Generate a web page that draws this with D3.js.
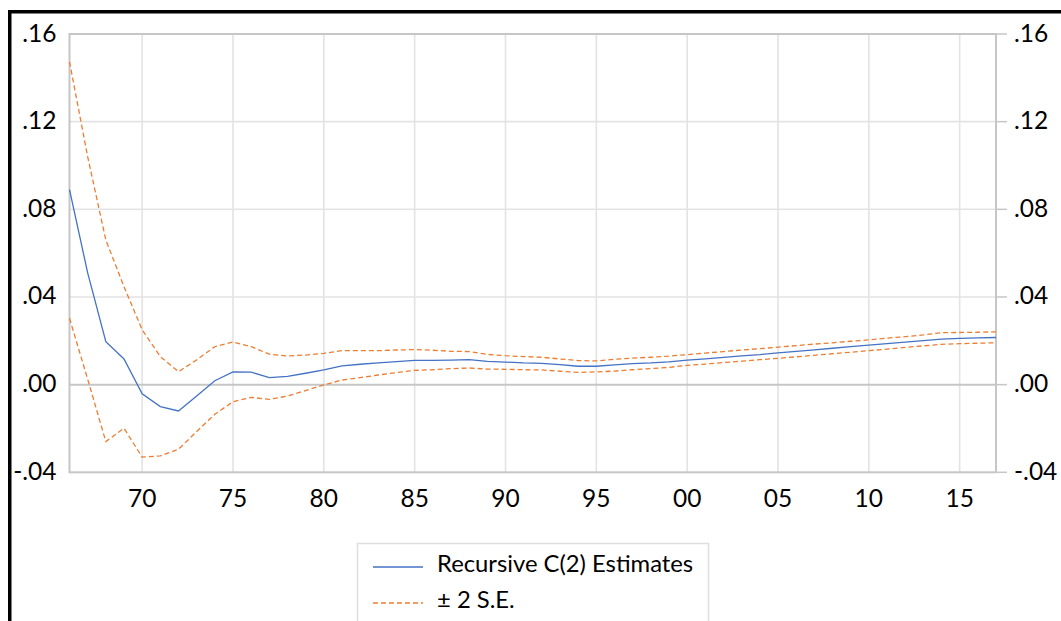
<!DOCTYPE html>
<html>
<head>
<meta charset="utf-8">
<script src="https://cdn.jsdelivr.net/npm/d3@7"></script>
<style>
  html, body { margin: 0; padding: 0; background: #fff; overflow: hidden; }
  text { font-family: Lato, "Open Sans", sans-serif; fill: #000; }
  .grid { stroke: #e3e3e3; stroke-width: 1.6; }
  .frame { stroke: #c6c6c6; stroke-width: 2; fill: none; }
  .estimate { fill: none; stroke: #4472c4; stroke-width: 1.3; }
  .band { fill: none; stroke: #ed7d31; stroke-width: 1.3; stroke-dasharray: 5 3; }
</style>
</head>
<body>
<svg id="chart" width="1061" height="621"></svg>
<script>
// years of the recursive sample
const years = [
  1966, 1967, 1968, 1969, 1970, 1971, 1972, 1973, 1974, 1975,
  1976, 1977, 1978, 1979, 1980, 1981, 1982, 1983, 1984, 1985,
  1986, 1987, 1988, 1989, 1990, 1991, 1992, 1993, 1994, 1995,
  1996, 1997, 1998, 1999, 2000, 2001, 2002, 2003, 2004, 2005,
  2006, 2007, 2008, 2009, 2010, 2011, 2012, 2013, 2014, 2015,
  2016, 2017,
];

// recursive C(2) estimates
const estimates = [
  0.0890, 0.0510, 0.0196, 0.0117, -0.0042, -0.0100, -0.0120, -0.0052, 0.0018, 0.0058,
  0.0057, 0.0032, 0.0038, 0.0052, 0.0067, 0.0086, 0.0093, 0.0099, 0.0105, 0.0111,
  0.0111, 0.0112, 0.0114, 0.0106, 0.0103, 0.0099, 0.0097, 0.0091, 0.0084, 0.0084,
  0.0090, 0.0096, 0.0099, 0.0104, 0.0112, 0.0118, 0.0124, 0.0131, 0.0137, 0.0145,
  0.0152, 0.0159, 0.0166, 0.0173, 0.0180, 0.0187, 0.0194, 0.0201, 0.0208, 0.0211,
  0.0213, 0.0215,
];

// + 2 S.E.
const upper = [
  0.1473, 0.1040, 0.0660, 0.0447, 0.0250, 0.0128, 0.0059, 0.0113, 0.0173, 0.0195,
  0.0173, 0.0139, 0.0131, 0.0135, 0.0143, 0.0155, 0.0155, 0.0155, 0.0158, 0.0160,
  0.0157, 0.0152, 0.0151, 0.0138, 0.0132, 0.0128, 0.0125, 0.0117, 0.0110, 0.0108,
  0.0116, 0.0121, 0.0125, 0.0130, 0.0137, 0.0144, 0.0151, 0.0158, 0.0164, 0.0171,
  0.0178, 0.0185, 0.0191, 0.0198, 0.0204, 0.0212, 0.0219, 0.0227, 0.0237, 0.0238,
  0.0239, 0.0241,
];

// - 2 S.E.
const lower = [
  0.0303, 0.0025, -0.0260, -0.0199, -0.0331, -0.0325, -0.0295, -0.0214, -0.0135, -0.0078,
  -0.0058, -0.0067, -0.0052, -0.0027, -0.0001, 0.0021, 0.0032, 0.0044, 0.0055, 0.0065,
  0.0068, 0.0073, 0.0076, 0.0071, 0.0070, 0.0068, 0.0067, 0.0061, 0.0056, 0.0058,
  0.0062, 0.0068, 0.0073, 0.0079, 0.0088, 0.0094, 0.0101, 0.0107, 0.0114, 0.0120,
  0.0127, 0.0134, 0.0141, 0.0148, 0.0155, 0.0162, 0.0170, 0.0177, 0.0184, 0.0187,
  0.0189, 0.0191,
];

const yTicks = [-0.04, 0, 0.04, 0.08, 0.12, 0.16];
const yTickLabels = ["-.04", ".00", ".04", ".08", ".12", ".16"];
const xTicks = [1970, 1975, 1980, 1985, 1990, 1995, 2000, 2005, 2010, 2015];
const xTickLabels = ["70", "75", "80", "85", "90", "95", "00", "05", "10", "15"];
const legendLabels = ["Recursive C(2) Estimates", "\u00b1 2 S.E."];

const svg = d3.select("#chart");

// plot box (pixels)
const plotLeft = 69.5, plotRight = 996, plotTop = 34, plotBottom = 472.3;

const x = d3.scaleLinear().domain([1966, 2017]).range([plotLeft, plotRight]);
const y = d3.scaleLinear().domain([-0.04, 0.16]).range([plotBottom, plotTop]);

// outer black frame, cut off by the window on the right and bottom
svg.append("rect")
  .attr("x", 9.75).attr("y", 11.75)
  .attr("width", 1200).attr("height", 800)
  .attr("fill", "none").attr("stroke", "#000").attr("stroke-width", 3.5);

// gridlines
svg.append("g").selectAll("line")
  .data(xTicks)
  .join("line")
  .attr("class", "grid")
  .attr("x1", (d) => x(d)).attr("x2", (d) => x(d))
  .attr("y1", plotTop).attr("y2", plotBottom);

svg.append("g").selectAll("line")
  .data(yTicks.filter((d) => d !== 0 && d !== 0.16 && d !== -0.04))
  .join("line")
  .attr("class", "grid")
  .attr("x1", plotLeft).attr("x2", plotRight)
  .attr("y1", (d) => y(d)).attr("y2", (d) => y(d));

// zero line
svg.append("line")
  .attr("class", "frame")
  .attr("x1", plotLeft).attr("x2", plotRight)
  .attr("y1", y(0)).attr("y2", y(0));

// plot frame
svg.append("rect")
  .attr("class", "frame")
  .attr("x", plotLeft).attr("y", plotTop)
  .attr("width", plotRight - plotLeft).attr("height", plotBottom - plotTop);

// left axis labels (no ticks)
svg.append("g").selectAll("text")
  .data(yTicks)
  .join("text")
  .attr("x", 56.5)
  .attr("y", (d) => y(d) + 7.5)
  .attr("text-anchor", "end")
  .attr("font-size", 24.5)
  .text((d, i) => yTickLabels[i]);

// right axis ticks and labels
const rightAxis = svg.append("g");
rightAxis.selectAll("line")
  .data(yTicks)
  .join("line")
  .attr("x1", plotRight + 1).attr("x2", plotRight + 11)
  .attr("y1", (d) => y(d)).attr("y2", (d) => y(d))
  .attr("stroke", "#c6c6c6").attr("stroke-width", 1.5);
rightAxis.selectAll("text")
  .data(yTicks)
  .join("text")
  .attr("x", 1014)
  .attr("y", (d) => y(d) + 7.5)
  .attr("font-size", 24.5)
  .text((d, i) => yTickLabels[i]);

// bottom axis labels
svg.append("g").selectAll("text")
  .data(xTicks)
  .join("text")
  .attr("x", (d) => x(d))
  .attr("y", 507)
  .attr("text-anchor", "middle")
  .attr("font-size", 24.5)
  .text((d, i) => xTickLabels[i]);

// series
const line = (vals) =>
  d3.line().x((d, i) => x(years[i])).y((d) => y(d))(vals);

svg.append("path").attr("class", "band").attr("d", line(upper));
svg.append("path").attr("class", "band").attr("d", line(lower));
svg.append("path").attr("class", "estimate").attr("d", line(estimates));

// legend
const legend = svg.append("g");
legend.append("rect")
  .attr("x", 357.5).attr("y", 543.5)
  .attr("width", 351).attr("height", 120)
  .attr("fill", "#fff").attr("stroke", "#dedede").attr("stroke-width", 1.5);

const legendRows = [
  { cls: "estimate", y: 567 },
  { cls: "band", y: 603 },
];
legendRows.forEach((row, i) => {
  legend.append("line")
    .attr("class", row.cls)
    .attr("x1", 373).attr("x2", 423)
    .attr("y1", row.y).attr("y2", row.y);
  legend.append("text")
    .attr("x", 437)
    .attr("y", row.y + 5)
    .attr("font-size", 23.8)
    .text(legendLabels[i]);
});
</script>
</body>
</html>
